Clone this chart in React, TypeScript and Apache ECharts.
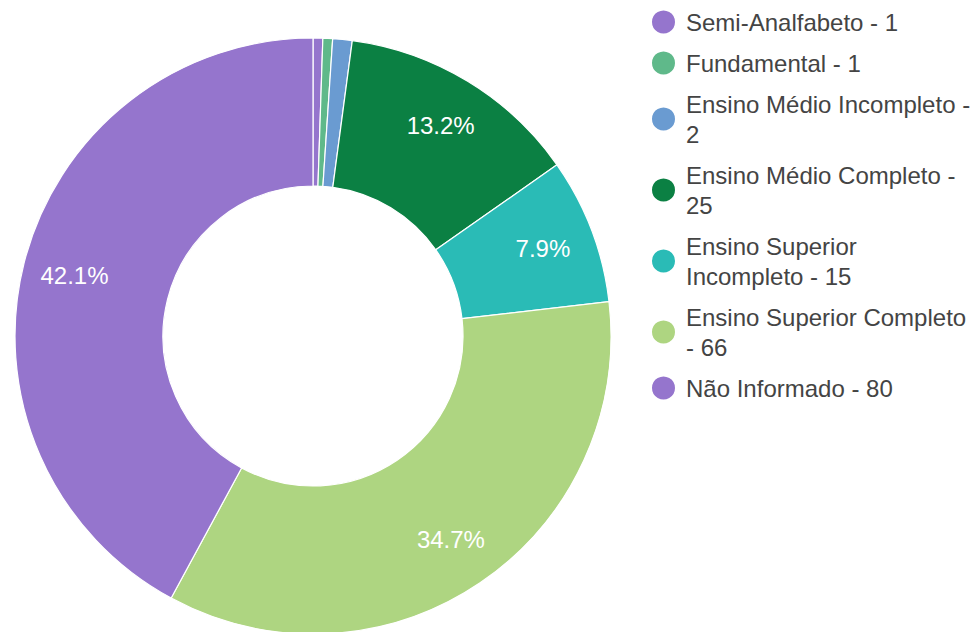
import React, { useEffect, useRef } from "react";
import * as echarts from "echarts";

const categories = [
  "Semi-Analfabeto",
  "Fundamental",
  "Ensino Médio Incompleto",
  "Ensino Médio Completo",
  "Ensino Superior Incompleto",
  "Ensino Superior Completo",
  "Não Informado",
];
const values = [1, 1, 2, 25, 15, 66, 80];
const colors = ["#9575cd", "#5fb98a", "#6a9bd1", "#0b8043", "#2abbb6", "#aed581", "#9575cd"];
// number of words on the first legend line (0 = single line)
const legendWrapWords = [0, 0, 4, 4, 2, 3, 0];

const FONT = "Arial, 'Liberation Sans', sans-serif";

export default function App() {
  const ref = useRef<HTMLDivElement>(null);
  useEffect(() => {
    document.body.style.margin = "0";
    const chart = echarts.init(ref.current!, undefined, { renderer: "svg" });
    const total = values.reduce((a, b) => a + b, 0);
    const data = categories.map((name, i) => ({
      name,
      value: values[i],
      itemStyle: { color: colors[i] },
    }));
    chart.setOption({
      animation: false,
      backgroundColor: "#ffffff",
      legend: {
        orient: "vertical",
        left: 645,
        top: 2,
        icon: "circle",
        itemWidth: 25,
        itemHeight: 25,
        itemGap: 11,
        data: categories,
        formatter: (name: string) => {
          const i = categories.indexOf(name);
          const words = `${name} - ${values[i]}`.split(" ");
          const n = legendWrapWords[i];
          if (!n) return words.join(" ");
          return words.slice(0, n).join(" ") + "\n" + words.slice(n).join(" ");
        },
        textStyle: {
          fontFamily: FONT,
          fontSize: 24,
          color: "#444444",
          lineHeight: 30,
          padding: [0, 0, 0, 5],
        },
      },
      series: [
        {
          type: "pie",
          center: [313, 336],
          radius: [150, 298],
          startAngle: 90,
          clockwise: true,
          avoidLabelOverlap: false,
          itemStyle: { borderColor: "#ffffff", borderWidth: 1.2 },
          label: { show: false },
          labelLine: { show: false },
          emphasis: { disabled: true },
          data,
        },
        {
          type: "pie",
          center: [313, 336],
          radius: [188, 298],
          startAngle: 90,
          clockwise: true,
          silent: true,
          avoidLabelOverlap: false,
          itemStyle: { color: "rgba(0,0,0,0)", borderWidth: 0 },
          label: {
            show: true,
            position: "inside",
            color: "#ffffff",
            fontFamily: FONT,
            fontSize: 24,
            formatter: (p: any) => {
              const pct = (p.value / total) * 100;
              return pct >= 5 ? pct.toFixed(1) + "%" : "";
            },
          },
          labelLine: { show: false },
          emphasis: { disabled: true },
          data: categories.map((name, i) => ({ name, value: values[i] })),
        },
      ],
    });
    return () => chart.dispose();
  }, []);
  return <div ref={ref} style={{ width: 979, height: 632 }} />;
}
